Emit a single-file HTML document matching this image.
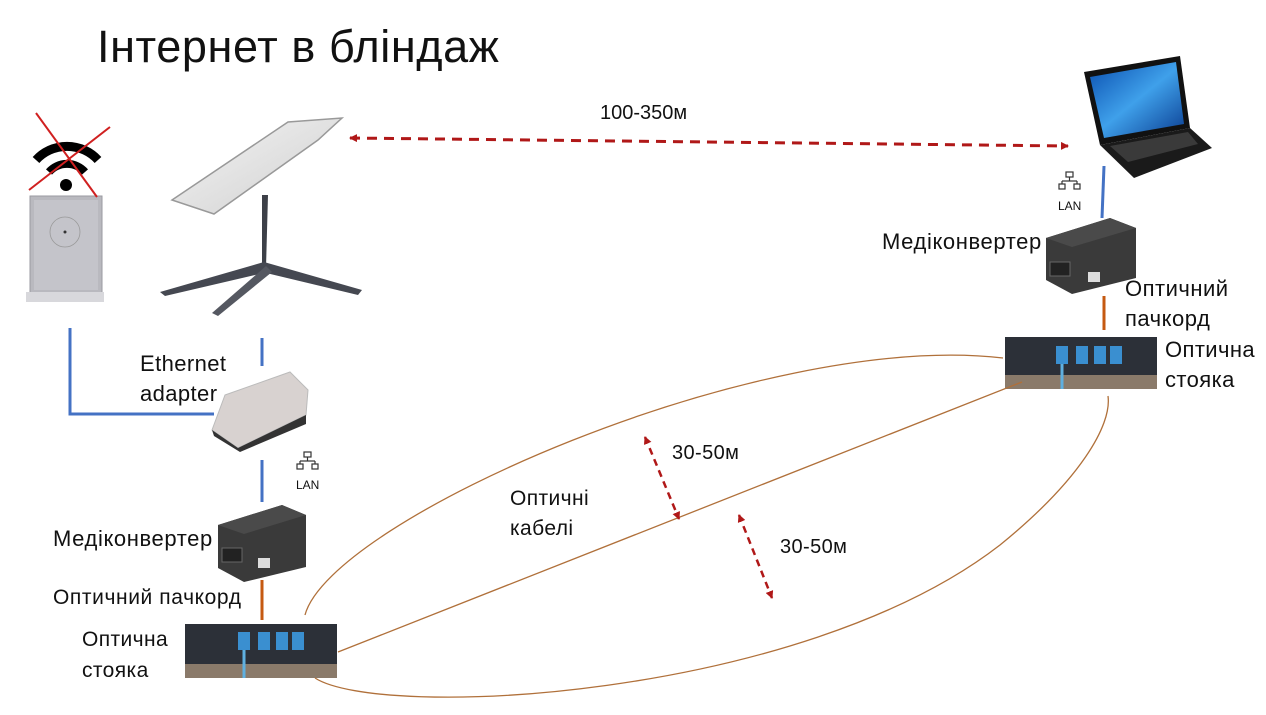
<!DOCTYPE html>
<html><head><meta charset="utf-8"><style>
html,body{margin:0;padding:0;background:#fff;}
svg{display:block;font-family:"Liberation Sans","DejaVu Sans",sans-serif;}
text{fill:#111;}
</style></head><body>
<svg width="1266" height="715" viewBox="0 0 1266 715" xmlns="http://www.w3.org/2000/svg">
<defs>
<marker id="ah" markerWidth="8" markerHeight="8" refX="7" refY="4" orient="auto-start-reverse" markerUnits="userSpaceOnUse"><path d="M0,0 L8,4 L0,8 Z" fill="#b01818"/></marker>
<linearGradient id="scr" x1="0" y1="0" x2="1" y2="1"><stop offset="0" stop-color="#0a4fb0"/><stop offset="0.5" stop-color="#3fa0ea"/><stop offset="1" stop-color="#0a3c90"/></linearGradient>
<linearGradient id="dish" x1="0" y1="0" x2="1" y2="1"><stop offset="0" stop-color="#f4f4f4"/><stop offset="1" stop-color="#cfcfcf"/></linearGradient>
</defs>
<text x="97" y="62" font-size="45" letter-spacing="0.6" style="font-weight:300">Інтернет в бліндаж</text>

<!-- router -->
<rect x="30" y="196" width="72" height="98" fill="#b9b9bf" stroke="#9a9aa0"/>
<rect x="34" y="200" width="64" height="90" fill="#c4c4ca"/>
<circle cx="65" cy="232" r="15" fill="none" stroke="#999" stroke-width="0.8"/>
<circle cx="65" cy="232" r="1.5" fill="#333"/>
<rect x="26" y="292" width="78" height="10" fill="#d8d8dc"/>
<path d="M36,160 A42,42 0 0 1 98,160" fill="none" stroke="#000" stroke-width="9"/>
<path d="M49,172 A24,24 0 0 1 85,172" fill="none" stroke="#000" stroke-width="8"/>
<circle cx="66" cy="185" r="6" fill="#000"/>
<line x1="36" y1="113" x2="97" y2="197" stroke="#d02020" stroke-width="2"/>
<line x1="110" y1="127" x2="29" y2="190" stroke="#d02020" stroke-width="2"/>

<!-- dish -->
<path d="M262,195 L268,195 L266,268 L262,268 Z" fill="#3d4048"/>
<path d="M264,262 L160,292 L165,296 L268,272 Z" fill="#454851"/>
<path d="M264,262 L362,290 L358,295 L262,272 Z" fill="#454851"/>
<path d="M266,266 L212,313 L218,316 L272,272 Z" fill="#555861"/>
<path d="M172,200 L288,122 L342,118 L318,140 L214,214 Z" fill="url(#dish)" stroke="#999" stroke-width="1.5"/>

<!-- top dashed arrow -->
<line x1="350" y1="138" x2="1068" y2="146" stroke="#b01818" stroke-width="3" stroke-dasharray="10,7" marker-start="url(#ah)" marker-end="url(#ah)"/>
<text x="600" y="119" font-size="20">100-350м</text>

<!-- laptop -->
<path d="M1084,72 L1180,56 L1190,128 L1100,145 Z" fill="#111"/>
<path d="M1090,77 L1176,62 L1184,124 L1104,138 Z" fill="url(#scr)"/>
<path d="M1100,145 L1190,128 L1212,148 L1134,178 Z" fill="#1a1a1a"/>
<path d="M1110,146 L1188,132 L1198,144 L1128,162 Z" fill="#3a3a3a"/>

<!-- blue lines -->
<polyline points="70,328 70,414 214,414" fill="none" stroke="#4472c4" stroke-width="3"/>
<line x1="262" y1="338" x2="262" y2="366" stroke="#4472c4" stroke-width="3"/>
<line x1="262" y1="460" x2="262" y2="502" stroke="#4472c4" stroke-width="3"/>
<line x1="1104" y1="166" x2="1102" y2="218" stroke="#4472c4" stroke-width="3"/>
<!-- orange cords -->
<line x1="262" y1="580" x2="262" y2="620" stroke="#c55a11" stroke-width="3"/>
<line x1="1104" y1="296" x2="1104" y2="330" stroke="#c55a11" stroke-width="3"/>

<!-- Ethernet adapter -->
<path d="M225,395 L290,372 L308,390 L306,415 L238,448 L212,430 Z" fill="#d8d2d0" stroke="#bbb"/>
<path d="M212,430 L238,448 L306,415 L306,424 L240,452 L214,436 Z" fill="#333"/>
<text x="140" y="371" font-size="22" letter-spacing="0.4">Ethernet</text>
<text x="140" y="401" font-size="22" letter-spacing="0.4">adapter</text>

<!-- LAN icons -->
<g stroke="#333" fill="none" stroke-width="1.2">
<rect x="304" y="452" width="7" height="5"/><line x1="307.5" y1="457" x2="307.5" y2="461"/><line x1="300" y1="461" x2="315" y2="461"/><line x1="300" y1="461" x2="300" y2="464"/><line x1="315" y1="461" x2="315" y2="464"/><rect x="297" y="464" width="6" height="5"/><rect x="312" y="464" width="6" height="5"/>
<rect x="1066" y="172" width="7" height="5"/><line x1="1069.5" y1="177" x2="1069.5" y2="181"/><line x1="1062" y1="181" x2="1077" y2="181"/><line x1="1062" y1="181" x2="1062" y2="184"/><line x1="1077" y1="181" x2="1077" y2="184"/><rect x="1059" y="184" width="6" height="5"/><rect x="1074" y="184" width="6" height="5"/>
</g>
<text x="296" y="489" font-size="12" fill="#444">LAN</text>
<text x="1058" y="210" font-size="12" fill="#444">LAN</text>

<!-- media converters -->
<g>
<path d="M218,525 L282,505 L306,515 L306,567 L244,582 L218,568 Z" fill="#3a3a3a"/>
<path d="M218,525 L282,505 L306,515 L244,534 Z" fill="#4a4a4a"/>
<rect x="222" y="548" width="20" height="14" fill="#222" stroke="#666"/>
<rect x="258" y="558" width="12" height="10" fill="#ddd"/>
</g>
<g>
<path d="M1046,238 L1110,218 L1136,228 L1136,278 L1072,294 L1046,280 Z" fill="#3a3a3a"/>
<path d="M1046,238 L1110,218 L1136,228 L1072,247 Z" fill="#4a4a4a"/>
<rect x="1050" y="262" width="20" height="14" fill="#222" stroke="#666"/>
<rect x="1088" y="272" width="12" height="10" fill="#ddd"/>
</g>
<text x="53" y="546" font-size="22" letter-spacing="0.6">Медіконвертер</text>
<text x="882" y="249" font-size="22" letter-spacing="0.6">Медіконвертер</text>
<text x="53" y="604" font-size="21" letter-spacing="0.6">Оптичний пачкорд</text>
<text x="1125" y="296" font-size="22" letter-spacing="0.5">Оптичний</text>
<text x="1125" y="326" font-size="22" letter-spacing="0.5">пачкорд</text>

<!-- patch panels -->
<g>
<rect x="185" y="624" width="152" height="54" fill="#2c3038"/>
<rect x="185" y="664" width="152" height="14" fill="#8a7a6a"/>
<rect x="238" y="632" width="12" height="18" fill="#3a8fd0"/><rect x="258" y="632" width="12" height="18" fill="#3a8fd0"/><rect x="276" y="632" width="12" height="18" fill="#3a8fd0"/><rect x="292" y="632" width="12" height="18" fill="#3a8fd0"/>
<line x1="244" y1="650" x2="244" y2="678" stroke="#5fb0e0" stroke-width="3"/>
</g>
<g>
<rect x="1005" y="337" width="152" height="52" fill="#2c3038"/>
<rect x="1005" y="375" width="152" height="14" fill="#8a7a6a"/>
<rect x="1056" y="346" width="12" height="18" fill="#3a8fd0"/><rect x="1076" y="346" width="12" height="18" fill="#3a8fd0"/><rect x="1094" y="346" width="12" height="18" fill="#3a8fd0"/><rect x="1110" y="346" width="12" height="18" fill="#3a8fd0"/>
<line x1="1062" y1="364" x2="1062" y2="389" stroke="#5fb0e0" stroke-width="3"/>
</g>
<text x="82" y="646" font-size="21" letter-spacing="0.4">Оптична</text>
<text x="82" y="677" font-size="21" letter-spacing="0.4">стояка</text>
<text x="1165" y="357" font-size="22" letter-spacing="0.4">Оптична</text>
<text x="1165" y="387" font-size="22" letter-spacing="0.4">стояка</text>

<!-- cables -->
<g fill="none" stroke="#b0703a" stroke-width="1.3">
<path d="M305,615 C330,520 760,330 1003,358"/>
<path d="M338,652 L1022,382"/>
<path d="M315,678 C380,720 800,700 1000,545 C1080,480 1112,425 1108,396"/>
</g>
<text x="510" y="505" font-size="21" letter-spacing="0.4">Оптичні</text>
<text x="510" y="535" font-size="21" letter-spacing="0.4">кабелі</text>

<!-- small dashed arrows -->
<line x1="645" y1="437" x2="679" y2="519" stroke="#b01818" stroke-width="2.5" stroke-dasharray="7,5" marker-start="url(#ah)" marker-end="url(#ah)"/>
<line x1="739" y1="515" x2="772" y2="598" stroke="#b01818" stroke-width="2.5" stroke-dasharray="7,5" marker-start="url(#ah)" marker-end="url(#ah)"/>
<text x="672" y="459" font-size="20" letter-spacing="0.4">30-50м</text>
<text x="780" y="553" font-size="20" letter-spacing="0.4">30-50м</text>
</svg>
</body></html>
